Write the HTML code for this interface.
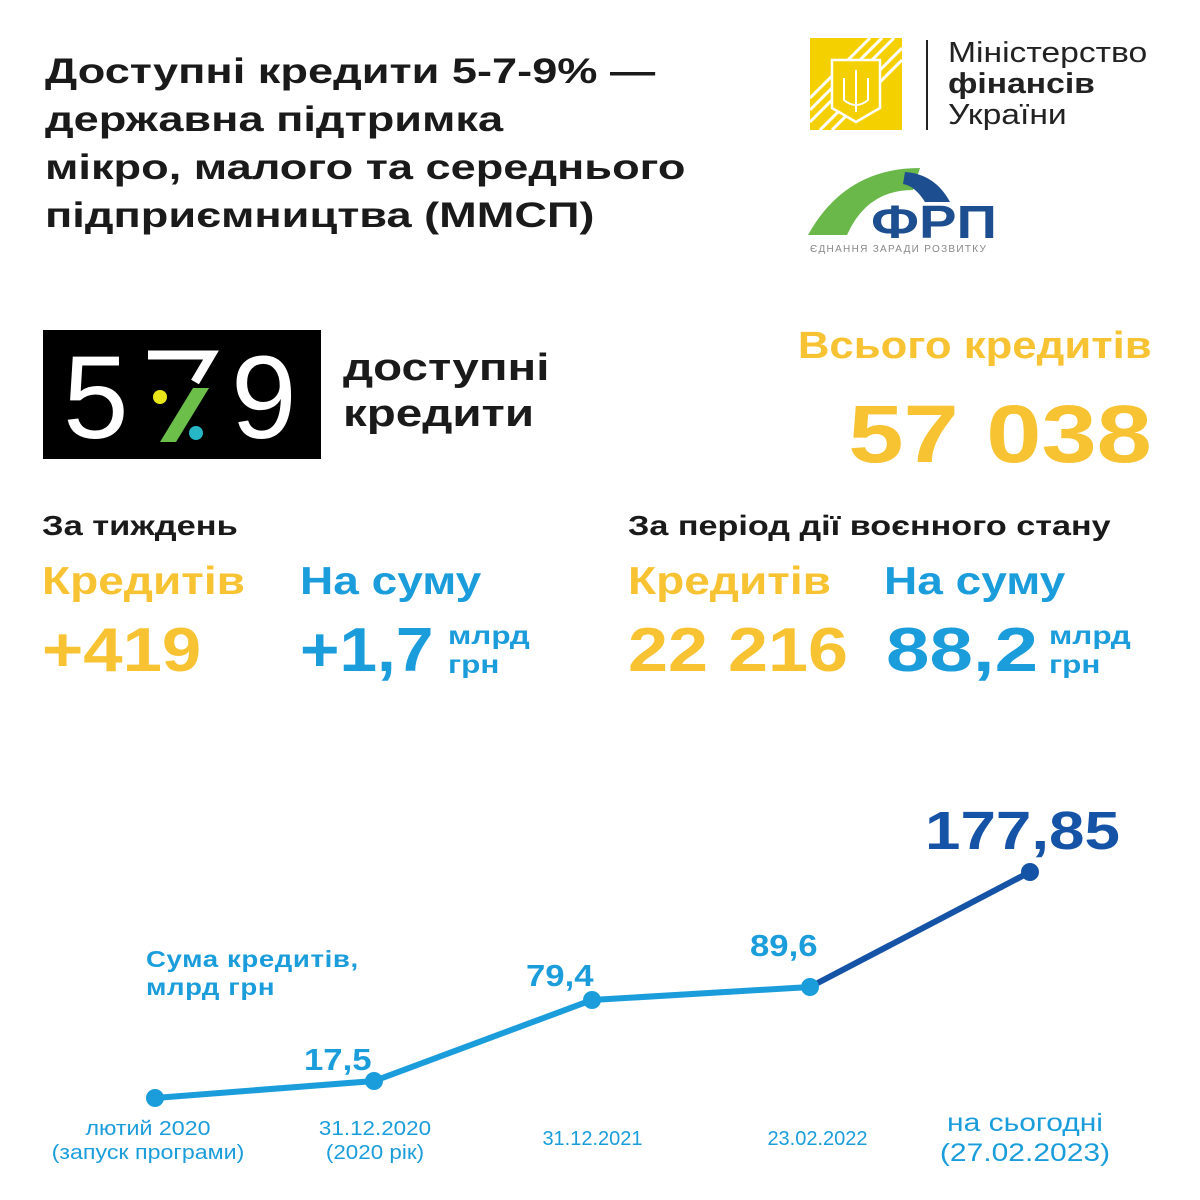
<!DOCTYPE html>
<html><head><meta charset="utf-8"><style>
body{margin:0;width:1200px;height:1200px;background:#fff;position:relative;overflow:hidden;font-family:"Liberation Sans",sans-serif;}
.a{position:absolute;white-space:nowrap;transform-origin:left top;}
.r{transform-origin:right top;}
.c{transform-origin:center top;}
.b{font-weight:bold;}
.y{color:#f8c333;}
.bl{color:#1b9ddb;}
</style></head><body>
<div class="a b" style="left:45px;top:48px;font-size:35px;line-height:48px;color:#1a1a1a;transform:scaleX(1.29);">Доступні кредити 5-7-9% —<br>державна підтримка<br>мікро, малого та середнього<br>підприємництва (ММСП)</div>

<div class="a" style="left:810px;top:38px;width:92px;height:92px;background:#f5d000;overflow:hidden;">
<svg width="92" height="92"><g stroke="#fff" stroke-width="3" fill="none">
<line x1="60" y1="0" x2="0" y2="60"/><line x1="72" y1="0" x2="0" y2="72"/><line x1="84" y1="0" x2="0" y2="84"/>
<line x1="92" y1="10" x2="10" y2="92"/><line x1="92" y1="22" x2="22" y2="92"/>
<path d="M22 22 H70 V70 L46 84 L22 70 Z" fill="#f5d000" stroke-width="2.5"/>
<path d="M46 32 V74 M34 40 V62 Q46 72 58 62 V40" stroke-width="2"/></g></svg></div>
<div class="a" style="left:926px;top:40px;width:2px;height:90px;background:#222;"></div>
<div class="a" style="left:948px;top:38px;font-size:29px;line-height:31px;color:#222;transform:scaleX(1.16);">Міністерство<br><b>фінансів</b><br>України</div>

<svg class="a" style="left:805px;top:160px;" width="200" height="95">
<path d="M3 75 Q40 8 115 8 L108 30 Q62 30 42 75 Z" fill="#6ab84a"/>
<path d="M100 12 Q130 14 145 42 L120 42 Q110 26 98 24 Z" fill="#1d4e8f"/>
<text x="66" y="78" font-family="Liberation Sans" font-weight="bold" font-size="46" fill="#1d4e8f" textLength="126" lengthAdjust="spacingAndGlyphs">ФРП</text>
<text x="5" y="92" font-family="Liberation Sans" font-size="10" fill="#888" letter-spacing="1.3">ЄДНАННЯ ЗАРАДИ РОЗВИТКУ</text>
</svg>

<div class="a" style="left:43px;top:330px;width:278px;height:129px;background:#000;">
<svg width="278" height="129">
<text x="20" y="108" font-family="Liberation Sans" font-size="118" fill="#fff">5</text>
<path d="M105 25 H168 L152 52" stroke="#fff" stroke-width="9" fill="none"/>
<polygon points="150,58 166,58 133,112 117,112" fill="#6cc04a"/>
<circle cx="117" cy="67" r="7" fill="#e9e61a"/><circle cx="153" cy="103" r="7" fill="#26b6c6"/>
<text x="188" y="108" font-family="Liberation Sans" font-size="118" fill="#fff">9</text>
</svg></div>
<div class="a b" style="left:343px;top:345px;font-size:38px;line-height:46px;color:#1a1a1a;transform:scaleX(1.25);">доступні<br>кредити</div>

<div class="a b y r" style="right:48px;top:325px;font-size:38px;transform:scaleX(1.15);">Всього кредитів</div>
<div class="a b y r" style="right:48px;top:388px;font-size:82px;transform:scaleX(1.21);">57 038</div>

<div class="a b" style="left:42px;top:510px;font-size:28px;color:#1a1a1a;transform:scaleX(1.23);">За тиждень</div>
<div class="a b" style="left:628px;top:510px;font-size:28px;color:#1a1a1a;transform:scaleX(1.22);">За період дії воєнного стану</div>
<div class="a b y" style="left:42px;top:560px;font-size:39px;transform:scaleX(1.18);">Кредитів</div>
<div class="a b bl" style="left:300px;top:560px;font-size:39px;transform:scaleX(1.18);">На суму</div>
<div class="a b y" style="left:628px;top:560px;font-size:39px;transform:scaleX(1.18);">Кредитів</div>
<div class="a b bl" style="left:884px;top:560px;font-size:39px;transform:scaleX(1.18);">На суму</div>
<div class="a b y" style="left:42px;top:615px;font-size:62px;transform:scaleX(1.14);">+419</div>
<div class="a b bl" style="left:300px;top:615px;font-size:62px;transform:scaleX(1.09);">+1,7</div>
<div class="a b bl" style="left:448px;top:622px;font-size:25px;line-height:29px;transform:scaleX(1.26);">млрд<br>грн</div>
<div class="a b y" style="left:628px;top:615px;font-size:62px;transform:scaleX(1.16);">22 216</div>
<div class="a b bl" style="left:886px;top:615px;font-size:62px;transform:scaleX(1.26);">88,2</div>
<div class="a b bl" style="left:1049px;top:622px;font-size:25px;line-height:29px;transform:scaleX(1.26);">млрд<br>грн</div>

<svg class="a" style="left:0;top:0;" width="1200" height="1200">
<polyline points="155,1098 374,1081 592,1000 810,987" fill="none" stroke="#1b9ddb" stroke-width="6"/>
<line x1="810" y1="987" x2="1030" y2="872" stroke="#1553a6" stroke-width="6"/>
<g fill="#1b9ddb"><circle cx="155" cy="1098" r="9"/><circle cx="374" cy="1081" r="9"/><circle cx="592" cy="1000" r="9"/><circle cx="810" cy="987" r="9"/></g>
<circle cx="1030" cy="872" r="9" fill="#1553a6"/>
</svg>
<div class="a b bl" style="left:146px;top:945px;font-size:23px;line-height:28px;letter-spacing:0.5px;transform:scaleX(1.2);">Сума кредитів,<br>млрд грн</div>
<div class="a b bl" style="left:304px;top:1042px;font-size:31px;transform:scaleX(1.12);">17,5</div>
<div class="a b bl" style="left:526px;top:958px;font-size:31px;transform:scaleX(1.12);">79,4</div>
<div class="a b bl" style="left:750px;top:928px;font-size:31px;transform:scaleX(1.12);">89,6</div>
<div class="a b" style="left:925px;top:800px;font-size:54px;color:#1553a6;transform:scaleX(1.18);">177,85</div>
<div class="a bl c" style="left:48px;top:1117px;width:200px;text-align:center;font-size:20px;line-height:24px;transform:scaleX(1.16);">лютий 2020<br>(запуск програми)</div>
<div class="a bl c" style="left:300px;top:1117px;width:150px;text-align:center;font-size:20px;line-height:24px;transform:scaleX(1.12);">31.12.2020<br>(2020 рік)</div>
<div class="a bl c" style="left:520px;top:1128px;width:145px;text-align:center;font-size:20px;">31.12.2021</div>
<div class="a bl c" style="left:745px;top:1128px;width:145px;text-align:center;font-size:20px;">23.02.2022</div>
<div class="a bl c" style="left:925px;top:1108px;width:200px;text-align:center;font-size:25px;line-height:30px;transform:scaleX(1.2);">на сьогодні<br>(27.02.2023)</div>
</body></html>
